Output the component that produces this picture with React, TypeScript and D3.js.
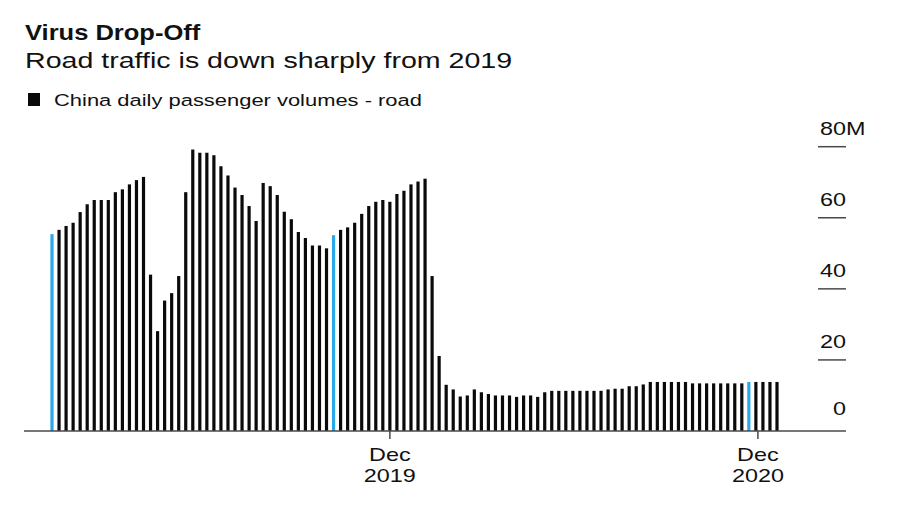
import * as d3 from 'd3';
import React, { useRef, useEffect } from 'react';

// weekly China road passenger volumes, millions
const firstWeek = new Date(2018, 11, 30);
const volumes = [
    55.4, 56.6, 57.7, 58.6, 61.6, 63.8, 65.0, 65.0, 65.0, 67.2, 68.0, 69.4, 70.6, 71.5,
    44.0, 28.1, 36.7, 38.8, 43.6, 67.2,
    79.2, 78.3, 78.3, 77.6, 74.5, 71.9, 68.5, 66.4, 63.3, 59.1,
    69.8, 68.9, 66.4, 61.7, 59.6, 56.0, 54.3, 52.2, 52.2, 51.4,
    55.1, 56.6, 57.3, 58.6, 61.1, 63.3, 64.5, 65.0, 64.5, 66.7, 67.6, 69.4, 70.2, 71.0,
    43.6, 21.1, 13.0, 11.7, 9.7, 10.0,
    11.7, 10.9, 10.4, 10.0, 10.0, 10.0, 9.6, 10.0, 10.0, 9.6,
    10.9, 11.3, 11.3, 11.3, 11.3, 11.3, 11.3, 11.3, 11.3, 11.7,
    11.9, 11.9, 12.6, 12.6, 13.1, 13.8, 13.8, 13.8, 13.8, 13.8,
    13.8, 13.4, 13.4, 13.4, 13.4, 13.4, 13.4, 13.4, 13.4, 13.8,
    13.8, 13.8, 13.8, 13.8,
];
const highlightWeeks = [0, 40, 99];
const yTicks = [0, 20, 40, 60, 80];
const xTickDates = [new Date(2019, 11, 1), new Date(2020, 11, 1)];

const title = 'Virus Drop-Off';
const subtitle = 'Road traffic is down sharply from 2019';
const legendLabel = 'China daily passenger volumes - road';

const App = () => {
    const svgRef = useRef<SVGSVGElement>(null);

    useEffect(() => {
        const opt = {
            width: 900,
            height: 510,
            stretch: 1.3, // the source frame is widened horizontally
            font: '"Liberation Sans", Arial, Helvetica, sans-serif',
            barWidth: 3.2,
            black: '#0a0a0a',
            blue: '#2aa8e8',
            axis: '#4a4a4a',
        };

        const svg = d3.select(svgRef.current);
        svg.selectAll('*').remove();

        const dates = volumes.map((_, i) => d3.timeWeek.offset(firstWeek, i));

        const x = d3.scaleTime()
            .domain([dates[0], dates[dates.length - 1]])
            .range([52, 777]);
        const y = d3.scaleLinear().domain([0, 80]).range([431, 146.7]);

        const addText = (g: any, tx: number, ty: number, str: string, size: number,
            anchor = 'start', weight = 'normal', stretch = opt.stretch) =>
            g.append('text')
                .attr('transform', `translate(${tx},${ty}) scale(${stretch},1)`)
                .attr('text-anchor', anchor)
                .style('font-family', opt.font)
                .style('font-size', `${size}px`)
                .style('font-weight', weight)
                .style('fill', '#111')
                .text(str);

        svg.append('rect').attr('width', opt.width).attr('height', opt.height).attr('fill', '#fff');

        // header
        addText(svg, 25, 40, title, 22, 'start', 'bold', 1.16);
        addText(svg, 25, 68, subtitle, 21.5, 'start', 'normal', 1.33);
        svg.append('rect')
            .attr('x', 28).attr('y', 93).attr('width', 12).attr('height', 13)
            .attr('fill', opt.black);
        addText(svg, 54, 106, legendLabel, 17, 'start', 'normal', 1.29);

        // y axis ticks on the right
        const gy = svg.append('g');
        yTicks.filter((v) => v > 0).forEach((v) => {
            gy.append('line')
                .attr('x1', 818).attr('x2', 846)
                .attr('y1', y(v)).attr('y2', y(v))
                .attr('stroke', opt.axis).attr('stroke-width', 1.5);
        });
        yTicks.forEach((v) => {
            const ty = y(v) - (v === 0 ? 16 : 12);
            addText(gy, 846, ty, String(v), 18, 'end');
            if (v === 80) addText(gy, 846, ty, 'M', 18, 'start');
        });

        // bars
        svg.append('g')
            .selectAll('rect')
            .data(volumes)
            .join('rect')
            .attr('x', (d, i) => x(dates[i]) - opt.barWidth / 2)
            .attr('y', (d) => y(d))
            .attr('width', opt.barWidth)
            .attr('height', (d) => y(0) - y(d))
            .attr('fill', (d, i) => (highlightWeeks.includes(i) ? opt.blue : opt.black));

        // baseline + time axis
        svg.append('line')
            .attr('x1', 24).attr('x2', 846)
            .attr('y1', y(0)).attr('y2', y(0))
            .attr('stroke', opt.axis).attr('stroke-width', 1.5);

        const gx = svg.append('g');
        xTickDates.forEach((dt) => {
            const tx = x(dt);
            gx.append('line')
                .attr('x1', tx).attr('x2', tx)
                .attr('y1', y(0)).attr('y2', y(0) + 8)
                .attr('stroke', opt.axis).attr('stroke-width', 1.5);
            addText(gx, tx, 460.5, d3.timeFormat('%b')(dt), 18, 'middle');
            addText(gx, tx, 481.5, d3.timeFormat('%Y')(dt), 18, 'middle');
        });
    }, []);

    return (
        <svg
            ref={svgRef}
            width={900}
            height={510}
            style={{ position: 'absolute', left: 0, top: 0 }}
        />
    );
};

export default App;
